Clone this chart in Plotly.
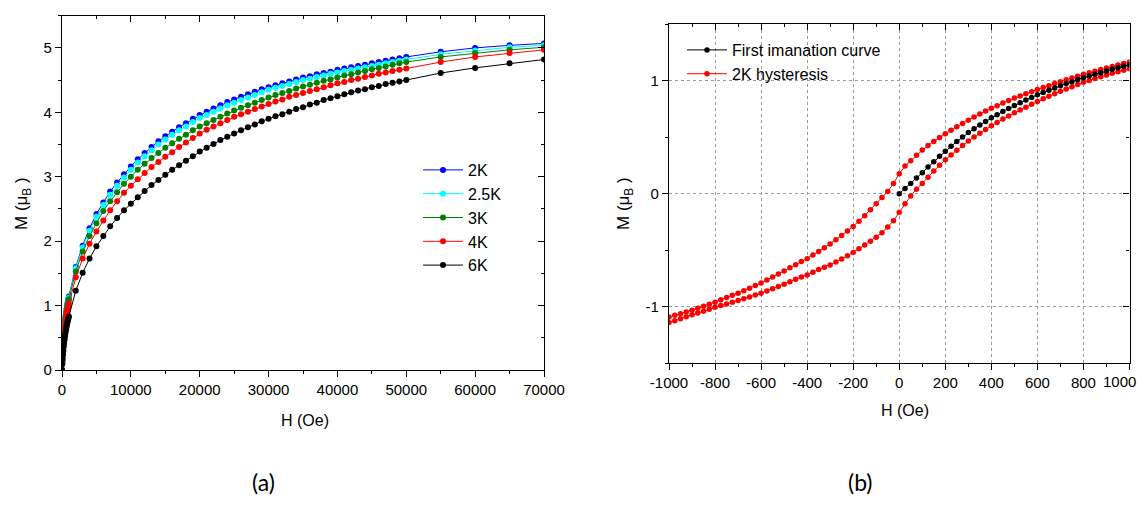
import plotly.graph_objects as go

# ---------------- (a) M vs H at several temperatures ----------------
H_low = [0, 50, 100, 150, 200, 250, 300, 350, 400, 450, 500, 550, 600, 650, 700, 750, 800, 850, 900, 950, 1000]
H_mid = list(range(2000, 50001, 1000))
H_high = [55000, 60000, 65000, 70000]
H_field = H_low + H_mid + H_high

M_2K = ([0, 0.14, 0.26, 0.36, 0.44, 0.52, 0.59, 0.65, 0.71, 0.76, 0.81, 0.85, 0.89, 0.93, 0.96, 1.00, 1.03, 1.06, 1.09, 1.11, 1.14]
        + [1.60, 1.93, 2.20, 2.42, 2.60, 2.77, 2.91, 3.04, 3.16, 3.27, 3.37, 3.46, 3.55, 3.63, 3.70, 3.77, 3.83, 3.90]
        + [3.96, 4.01, 4.06, 4.11, 4.16, 4.20, 4.24, 4.28, 4.32, 4.36, 4.39, 4.42, 4.45, 4.48, 4.51, 4.54, 4.56, 4.59, 4.61, 4.63,
           4.66, 4.68, 4.70, 4.72, 4.74, 4.76, 4.78, 4.80, 4.82, 4.84, 4.86]
        + [4.94, 5.00, 5.04, 5.07])
M_25K = ([0, 0.13, 0.25, 0.35, 0.43, 0.51, 0.58, 0.64, 0.69, 0.74, 0.79, 0.83, 0.87, 0.91, 0.95, 0.98, 1.01, 1.04, 1.07, 1.10, 1.12]
         + [1.58, 1.90, 2.16, 2.38, 2.56, 2.72, 2.86, 2.99, 3.11, 3.22, 3.32, 3.41, 3.50, 3.58, 3.65, 3.72, 3.78, 3.85]
         + [3.91, 3.96, 4.01, 4.06, 4.11, 4.15, 4.19, 4.23, 4.27, 4.31, 4.35, 4.38, 4.41, 4.44, 4.47, 4.50, 4.52, 4.55, 4.57, 4.60,
            4.62, 4.64, 4.66, 4.68, 4.70, 4.72, 4.74, 4.76, 4.78, 4.80, 4.82]
         + [4.90, 4.96, 5.01, 5.04])
M_3K = ([0, 0.13, 0.24, 0.34, 0.42, 0.50, 0.56, 0.62, 0.68, 0.73, 0.78, 0.82, 0.86, 0.90, 0.93, 0.96, 0.99, 1.02, 1.05, 1.08, 1.10]
        + [1.53, 1.84, 2.08, 2.28, 2.47, 2.62, 2.76, 2.89, 3.00, 3.11, 3.20, 3.29, 3.37, 3.45, 3.52, 3.59, 3.65, 3.72]
        + [3.78, 3.83, 3.88, 3.93, 3.98, 4.03, 4.07, 4.11, 4.15, 4.19, 4.23, 4.27, 4.30, 4.33, 4.37, 4.40, 4.43, 4.46, 4.49, 4.51,
           4.54, 4.57, 4.59, 4.62, 4.64, 4.67, 4.69, 4.71, 4.74, 4.76, 4.78]
        + [4.86, 4.92, 4.97, 5.01])
M_4K = ([0, 0.12, 0.22, 0.31, 0.39, 0.46, 0.52, 0.58, 0.63, 0.68, 0.72, 0.76, 0.80, 0.84, 0.87, 0.90, 0.93, 0.96, 0.98, 1.01, 1.03]
        + [1.44, 1.73, 1.96, 2.15, 2.32, 2.48, 2.62, 2.75, 2.86, 2.96, 3.06, 3.15, 3.23, 3.31, 3.38, 3.46, 3.53, 3.60]
        + [3.67, 3.73, 3.78, 3.83, 3.88, 3.93, 3.97, 4.01, 4.05, 4.09, 4.13, 4.17, 4.20, 4.24, 4.27, 4.30, 4.33, 4.36, 4.39, 4.42,
           4.45, 4.47, 4.50, 4.52, 4.55, 4.57, 4.60, 4.62, 4.64, 4.66, 4.68]
        + [4.78, 4.86, 4.92, 4.97])
M_6K = ([0, 0.09, 0.17, 0.24, 0.30, 0.36, 0.41, 0.46, 0.50, 0.54, 0.58, 0.61, 0.64, 0.67, 0.70, 0.72, 0.75, 0.77, 0.79, 0.81, 0.83]
        + [1.23, 1.51, 1.73, 1.92, 2.08, 2.23, 2.36, 2.48, 2.58, 2.68, 2.78, 2.87, 2.95, 3.03, 3.11, 3.18, 3.25, 3.32]
        + [3.39, 3.45, 3.51, 3.57, 3.62, 3.67, 3.72, 3.77, 3.81, 3.86, 3.90, 3.94, 3.97, 4.01, 4.05, 4.08, 4.12, 4.15, 4.19, 4.22,
           4.25, 4.28, 4.31, 4.34, 4.36, 4.39, 4.41, 4.44, 4.46, 4.48, 4.50]
        + [4.61, 4.69, 4.76, 4.82])

temp_labels = ["2K", "2.5K", "3K", "4K", "6K"]
temp_series = [M_2K, M_25K, M_3K, M_4K, M_6K]
temp_colors = ["#0000FF", "#00FFFF", "#008000", "#FF0000", "#000000"]

a_xtickvals = [0, 10000, 20000, 30000, 40000, 50000, 60000, 70000]
a_xticktext = ["0", "10000", "20000", "30000", "40000", "50000", "60000", "70000"]
a_ytickvals = [0, 1, 2, 3, 4, 5]
a_yticktext = ["0", "1", "2", "3", "4", "5"]

# ---------------- (b) hysteresis at 2K ----------------
H_loop = list(range(-1000, 1001, 25))
M_upper = [-1.090, -1.076, -1.062, -1.047, -1.030, -1.013, -0.996, -0.978, -0.960,
           -0.939, -0.918, -0.899, -0.880, -0.858, -0.836, -0.813, -0.790,
           -0.763, -0.737, -0.711, -0.685, -0.656, -0.628, -0.601, -0.575,
           -0.543, -0.511, -0.478, -0.445, -0.407, -0.369, -0.330, -0.290,
           -0.243, -0.195, -0.143, -0.090, -0.035, 0.020, 0.090, 0.175,
           0.245, 0.290, 0.340, 0.385, 0.425, 0.462, 0.497, 0.530,
           0.561, 0.592, 0.621, 0.650, 0.677, 0.704, 0.730, 0.755,
           0.778, 0.801, 0.823, 0.845, 0.864, 0.883, 0.902, 0.920,
           0.938, 0.955, 0.973, 0.990, 1.006, 1.023, 1.039, 1.055,
           1.069, 1.083, 1.097, 1.110, 1.124, 1.138, 1.151, 1.165]
M_lower = [-1.140, -1.123, -1.106, -1.088, -1.070, -1.055, -1.040, -1.022, -1.005,
           -0.990, -0.975, -0.960, -0.945, -0.929, -0.913, -0.897, -0.880,
           -0.860, -0.840, -0.820, -0.800, -0.778, -0.757, -0.738, -0.720,
           -0.694, -0.670, -0.650, -0.630, -0.604, -0.578, -0.550, -0.520,
           -0.487, -0.454, -0.420, -0.385, -0.345, -0.295, -0.240, -0.165,
           -0.090, -0.020, 0.040, 0.090, 0.145, 0.200, 0.252, 0.300,
           0.342, 0.384, 0.425, 0.465, 0.500, 0.535, 0.568, 0.600,
           0.630, 0.659, 0.687, 0.715, 0.740, 0.765, 0.790, 0.815,
           0.838, 0.861, 0.883, 0.905, 0.925, 0.945, 0.965, 0.985,
           1.001, 1.018, 1.034, 1.050, 1.064, 1.078, 1.091, 1.105]
H_virgin = list(range(0, 1001, 25))
M_virgin = [0.000, 0.045, 0.090, 0.138, 0.185, 0.235, 0.283, 0.330, 0.375,
            0.418, 0.460, 0.500, 0.540, 0.574, 0.607, 0.639, 0.670,
            0.698, 0.726, 0.753, 0.780, 0.804, 0.828, 0.851, 0.875,
            0.895, 0.915, 0.935, 0.955, 0.973, 0.990, 1.008, 1.025,
            1.040, 1.055, 1.070, 1.085, 1.099, 1.113, 1.127, 1.140]

b_xtickvals = [-1000, -800, -600, -400, -200, 0, 200, 400, 600, 800, 1000]
b_xticktext = ["-1000", "-800", "-600", "-400", "-200", "0", "200", "400", "600", "800", ""]
b_last_label = "1000"        # drawn separately so it stays inside the page
b_ytickvals = [-1, 0, 1]
b_yticktext = ["-1", "0", "1"]

FONT = "Liberation Sans, Arial, sans-serif"
OFF = 8                      # default page margin of the html body
W, H = 1146 - 2 * OFF, 505 - 2 * OFF

def px_x(p):
    return (p - OFF) / W

def px_y(p):
    return 1 - (p - OFF) / H

fig = go.Figure()

for lab, ser, col in zip(temp_labels, temp_series, temp_colors):
    fig.add_trace(go.Scatter(x=H_field, y=ser, name=lab, mode="lines+markers",
                             line=dict(color=col, width=1),
                             marker=dict(color=col, size=6),
                             xaxis="x", yaxis="y", legend="legend"))

fig.add_trace(go.Scatter(x=H_loop[::-1] + H_loop, y=M_upper[::-1] + M_lower,
                         name="2K hysteresis", mode="lines+markers",
                         line=dict(color="#FF0000", width=1),
                         marker=dict(color="#FF0000", size=5.5),
                         xaxis="x2", yaxis="y2", legend="legend2"))
fig.add_trace(go.Scatter(x=H_virgin, y=M_virgin, name="First imanation curve",
                         mode="lines+markers",
                         line=dict(color="#000000", width=1),
                         marker=dict(color="#000000", size=5.5),
                         xaxis="x2", yaxis="y2", legend="legend2"))

# dummy traces so the mirror axes are drawn
for xa, ya in [("x3", "y"), ("x", "y3"), ("x4", "y2"), ("x2", "y4")]:
    fig.add_trace(go.Scatter(x=[None], y=[None], xaxis=xa, yaxis=ya,
                             showlegend=False, hoverinfo="skip"))

dom_ax = [px_x(62), px_x(544)]
dom_ay = [px_y(370), px_y(15.7)]
dom_bx = [px_x(669), px_x(1129.5)]
dom_by = [px_y(363.3), px_y(24)]

tickfont = dict(family=FONT, size=15, color="#000")
line_kw = dict(showline=True, linecolor="#000", linewidth=1.3, zeroline=False, automargin=False)

layout_axes = dict(
    xaxis=dict(domain=dom_ax, anchor="y", range=[0, 70000], tickmode="array",
               tickvals=a_xtickvals, ticktext=a_xticktext, ticks="outside", ticklen=6,
               tickcolor="#000", minor=dict(dtick=5000, tick0=0, ticks="outside", ticklen=3, tickcolor="#000"),
               showgrid=False, tickfont=tickfont, ticklabeloverflow="allow", **line_kw),
    yaxis=dict(domain=dom_ay, anchor="x", range=[0, 5.5], tickmode="array",
               tickvals=a_ytickvals, ticktext=a_yticktext, ticks="outside", ticklen=6,
               tickcolor="#000", minor=dict(dtick=0.5, tick0=0, ticks="outside", ticklen=3, tickcolor="#000"),
               showgrid=False, tickfont=tickfont, **line_kw),
    xaxis3=dict(overlaying="x", side="top", anchor="y", range=[0, 70000], tickmode="array",
                tickvals=a_xtickvals, showticklabels=False, ticks="inside", ticklen=6, tickcolor="#000",
                minor=dict(dtick=5000, tick0=0, ticks="inside", ticklen=3, tickcolor="#000"),
                showgrid=False, **line_kw),
    yaxis3=dict(overlaying="y", side="right", anchor="x", range=[0, 5.5], tickmode="array",
                tickvals=a_ytickvals, showticklabels=False, ticks="inside", ticklen=6, tickcolor="#000",
                minor=dict(dtick=0.5, tick0=0, ticks="inside", ticklen=3, tickcolor="#000"),
                showgrid=False, **line_kw),
    xaxis2=dict(domain=dom_bx, anchor="y2", range=[-1000, 1000], tickmode="array",
                tickvals=b_xtickvals, ticktext=b_xticktext, ticks="outside", ticklen=6,
                tickcolor="#000", minor=dict(dtick=100, tick0=0, ticks="outside", ticklen=3, tickcolor="#000"),
                showgrid=True, gridcolor="#9a9a9a", griddash="dot", gridwidth=1,
                tickfont=tickfont, ticklabeloverflow="allow", **line_kw),
    yaxis2=dict(domain=dom_by, anchor="x2", range=[-1.5, 1.5], tickmode="array",
                tickvals=b_ytickvals, ticktext=b_yticktext, ticks="outside", ticklen=6,
                tickcolor="#000", minor=dict(dtick=0.5, tick0=0, ticks="outside", ticklen=3, tickcolor="#000"),
                showgrid=True, gridcolor="#9a9a9a", griddash="dot", gridwidth=1,
                tickfont=tickfont, **line_kw),
    xaxis4=dict(overlaying="x2", side="top", anchor="y2", range=[-1000, 1000], tickmode="array",
                tickvals=b_xtickvals, showticklabels=False, ticks="inside", ticklen=6, tickcolor="#000",
                minor=dict(dtick=100, tick0=0, ticks="inside", ticklen=3, tickcolor="#000"),
                showgrid=False, **line_kw),
    yaxis4=dict(overlaying="y2", side="right", anchor="x2", range=[-1.5, 1.5], tickmode="array",
                tickvals=b_ytickvals, showticklabels=False, ticks="inside", ticklen=6, tickcolor="#000",
                minor=dict(dtick=0.5, tick0=0, ticks="inside", ticklen=3, tickcolor="#000"),
                showgrid=False, **line_kw),
)

ytitle = 'M (μ<sub>B</sub> )'
txt_font = dict(family=FONT, size=16, color="#000")
lab_font = dict(family="Lato, Open Sans, sans-serif", size=23, color="#000")
annotations = [
    dict(text="H (Oe)", x=px_x(305), y=px_y(420), font=txt_font),
    dict(text="H (Oe)", x=px_x(905), y=px_y(410), font=txt_font),
    dict(text=ytitle, x=px_x(23), y=px_y(204), textangle=-90, font=dict(txt_font, size=17)),
    dict(text=ytitle, x=px_x(625), y=px_y(204), textangle=-90, font=dict(txt_font, size=17)),
    dict(text="(a)", x=px_x(263), y=px_y(482), font=lab_font),
    dict(text="(b)", x=px_x(860), y=px_y(482), font=lab_font),
]
for a in annotations:
    a.update(xref="paper", yref="paper", xanchor="center", yanchor="middle", showarrow=False)
annotations.append(dict(text=b_last_label, x=1.0, y=px_y(381), xref="paper", yref="paper",
                        xanchor="right", yanchor="middle", showarrow=False, font=tickfont))

fig.update_layout(
    width=W, height=H, margin=dict(l=0, r=0, t=0, b=0, autoexpand=False),
    paper_bgcolor="white", plot_bgcolor="white",
    font=dict(family=FONT, color="#000"),
    annotations=annotations,
    legend=dict(x=px_x(418), y=px_y(153), xanchor="left", yanchor="top",
                bgcolor="rgba(0,0,0,0)", font=dict(family=FONT, size=16, color="#000"),
                itemwidth=40, tracegroupgap=0),
    legend2=dict(x=px_x(682), y=px_y(33), xanchor="left", yanchor="top",
                 bgcolor="rgba(0,0,0,0)", font=dict(family=FONT, size=16, color="#000"),
                 itemwidth=40, traceorder="reversed", tracegroupgap=0),
    **layout_axes,
)

fig.write_html("out.html")
